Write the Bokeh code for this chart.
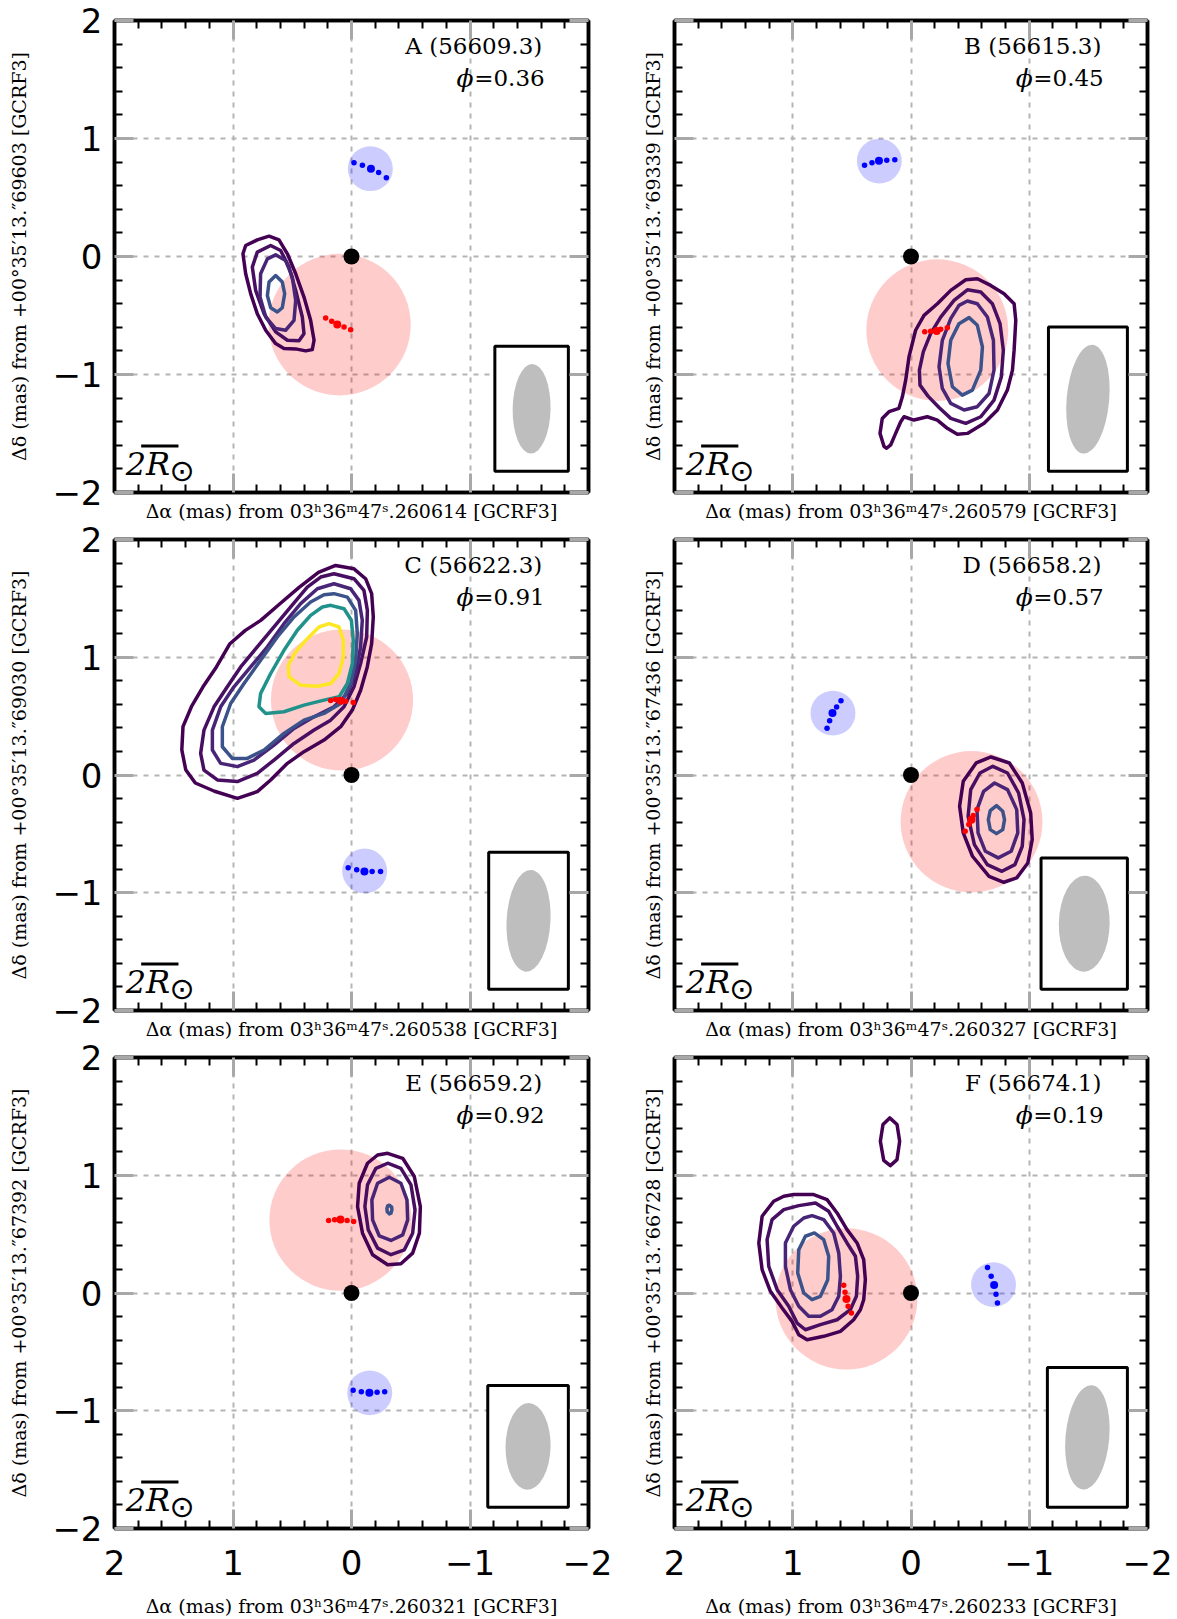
import math
from bokeh.plotting import figure
from bokeh.layouts import column, row
from bokeh.models import FixedTicker, LinearAxis, Range1d, Label, CustomJSTickFormatter
from bokeh.embed import file_html
from bokeh.resources import INLINE

# ---------------- data ----------------
PANEL_LETTERS = ["A", "B", "C", "D", "E", "F"]
EPOCH_MJD = ["56609.3", "56615.3", "56622.3", "56658.2", "56659.2", "56674.1"]
ORBITAL_PHASE = ["0.36", "0.45", "0.91", "0.57", "0.92", "0.19"]
RA_REF_FRAC = ["260614", "260579", "260538", "260327", "260321", "260233"]
DEC_REF_FRAC = ["69603", "69339", "69030", "67436", "67392", "66728"]

MAJOR_TICKS = [-2, -1, 0, 1, 2]
MINOR_TICKS = [-1.8, -1.6, -1.4, -1.2, -0.8, -0.6, -0.4, -0.2,
               0.2, 0.4, 0.6, 0.8, 1.2, 1.4, 1.6, 1.8]
TICK_LABELS = ["\u22122", "\u22121", "0", "1", "2"]
GRID_LINES = [-1, 0, 1]

# red track (5 positions, middle one = epoch position)
RED_X = [[0.218, 0.167, 0.120, 0.063, 0.007],
         [-0.116, -0.166, -0.217, -0.251, -0.307],
         [0.176, 0.134, 0.091, 0.049, -0.015],
         [-0.458, -0.489, -0.511, -0.526, -0.558],
         [0.193, 0.142, 0.093, 0.037, -0.018],
         [0.569, 0.558, 0.546, 0.532, 0.504]]
RED_Y = [[-0.521, -0.549, -0.577, -0.597, -0.620],
         [-0.637, -0.634, -0.631, -0.617, -0.603],
         [0.633, 0.641, 0.630, 0.627, 0.616],
         [-0.478, -0.421, -0.379, -0.345, -0.294],
         [0.615, 0.622, 0.625, 0.615, 0.608],
         [0.065, 0.006, -0.051, -0.113, -0.170]]
PINK_X = [0.100, -0.222, 0.080, -0.512, 0.093, 0.546]
PINK_Y = [-0.577, -0.624, 0.637, -0.397, 0.619, -0.050]
PINK_R = [0.60, 0.60, 0.60, 0.60, 0.60, 0.60]

# blue track
BLUE_X = [[-0.021, -0.092, -0.164, -0.229, -0.294],
          [0.393, 0.330, 0.271, 0.205, 0.137],
          [0.028, -0.044, -0.109, -0.174, -0.245],
          [0.710, 0.688, 0.664, 0.629, 0.592],
          [-0.014, -0.083, -0.151, -0.216, -0.280],
          [-0.647, -0.678, -0.703, -0.719, -0.731]]
BLUE_Y = [[0.794, 0.773, 0.743, 0.712, 0.667],
          [0.773, 0.794, 0.811, 0.816, 0.819],
          [-0.788, -0.805, -0.819, -0.819, -0.819],
          [0.396, 0.461, 0.526, 0.577, 0.631],
          [-0.825, -0.838, -0.848, -0.842, -0.838],
          [0.217, 0.142, 0.068, -0.010, -0.084]]
BLUECIRC_X = [-0.159, 0.268, -0.111, 0.660, -0.154, -0.698]
BLUECIRC_Y = [0.744, 0.809, -0.815, 0.525, -0.848, 0.071]
BLUECIRC_R = [0.19, 0.19, 0.19, 0.19, 0.19, 0.19]

# synthesized beam (mas, deg east of north)
BEAM_MAJ = [0.76, 0.925, 0.865, 0.815, 0.735, 0.89]
BEAM_MIN = [0.32, 0.36, 0.37, 0.43, 0.38, 0.37]
BEAM_PA = [-1, -5, -3, -1, -1, -5]

SCALE_2RSUN_MAS = 0.315

LEVEL_COLORS = ["#440154", "#470e61", "#482576", "#3b528b", "#21918c", "#fde725"]

# contours: (level index, x list, y list)
CONT_A = [
    (0, [0.696, 0.612, 0.541, 0.471, 0.401, 0.345, 0.316, 0.331, 0.387, 0.471, 0.570, 0.640,
         0.724, 0.795, 0.851, 0.893, 0.916, 0.893, 0.795],
        [0.172, 0.141, 0.023, -0.146, -0.344, -0.541, -0.710, -0.789, -0.800, -0.783, -0.780,
         -0.738, -0.625, -0.485, -0.315, -0.146, 0.023, 0.093, 0.141]),
    (1, [0.682, 0.598, 0.527, 0.471, 0.415, 0.401, 0.443, 0.541, 0.640, 0.738, 0.809, 0.837, 0.795],
        [0.093, 0.051, -0.090, -0.287, -0.513, -0.654, -0.715, -0.710, -0.639, -0.485, -0.287,
         -0.090, 0.037]),
    (2, [0.640, 0.556, 0.499, 0.471, 0.485, 0.556, 0.640, 0.724, 0.772, 0.767, 0.710],
        [0.014, -0.034, -0.175, -0.372, -0.541, -0.625, -0.611, -0.513, -0.344, -0.146, -0.020]),
    (3, [0.640, 0.584, 0.564, 0.584, 0.626, 0.682, 0.710, 0.696],
        [-0.161, -0.217, -0.315, -0.434, -0.470, -0.434, -0.330, -0.217]),
]
CONT_B = [
    (0, [0.228, 0.262, 0.243, 0.186, 0.102, 0.073, 0.045, 0.017, -0.039, -0.110, -0.223, -0.336,
         -0.463, -0.561, -0.674, -0.787, -0.872, -0.886, -0.872, -0.858, -0.815, -0.731, -0.618,
         -0.477, -0.392, -0.307, -0.223, -0.138, -0.025, 0.059, 0.087, 0.130, 0.172, 0.206],
        [-1.611, -1.499, -1.372, -1.315, -1.287, -1.189, -1.048, -0.851, -0.625, -0.499, -0.400,
         -0.287, -0.197, -0.189, -0.245, -0.315, -0.400, -0.541, -0.794, -0.963, -1.132, -1.301,
         -1.414, -1.499, -1.507, -1.456, -1.386, -1.358, -1.386, -1.358, -1.400, -1.499, -1.597,
         -1.625]),
    (1, [-0.477, -0.590, -0.688, -0.753, -0.781, -0.764, -0.702, -0.590, -0.463, -0.336, -0.237,
         -0.144, -0.076, -0.071, -0.104, -0.166, -0.251, -0.364],
        [-0.282, -0.301, -0.400, -0.569, -0.794, -1.020, -1.217, -1.358, -1.414, -1.372, -1.279,
         -1.183, -1.090, -0.963, -0.808, -0.654, -0.513, -0.372]),
    (2, [-0.477, -0.561, -0.646, -0.697, -0.702, -0.660, -0.561, -0.449, -0.336, -0.265, -0.237,
         -0.265, -0.336, -0.406],
        [-0.377, -0.400, -0.513, -0.710, -0.963, -1.161, -1.273, -1.301, -1.245, -1.118, -0.935,
         -0.710, -0.527, -0.414]),
    (3, [-0.491, -0.561, -0.604, -0.590, -0.519, -0.434, -0.350, -0.313, -0.336, -0.406],
        [-0.518, -0.583, -0.766, -0.963, -1.132, -1.175, -1.104, -0.907, -0.710, -0.569]),
]
CONT_C = [
    (0, [0.134, -0.021, -0.119, -0.170, -0.184, -0.170, -0.133, -0.077, -0.007, 0.091, 0.232,
         0.401, 0.541, 0.682, 0.795, 0.963, 1.156, 1.318, 1.399, 1.432, 1.422, 1.351, 1.253,
         1.140, 1.026, 0.896, 0.766, 0.604, 0.442, 0.279],
        [1.780, 1.751, 1.667, 1.540, 1.342, 1.116, 0.918, 0.720, 0.551, 0.410, 0.297, 0.198,
         0.099, -0.042, -0.141, -0.198, -0.138, -0.068, 0.045, 0.214, 0.411, 0.580, 0.749,
         0.918, 1.115, 1.228, 1.313, 1.454, 1.594, 1.721]),
    (1, [0.148, -0.021, -0.105, -0.134, -0.128, -0.077, -0.021, 0.063, 0.176, 0.316, 0.485,
         0.654, 0.795, 0.963, 1.132, 1.245, 1.273, 1.245, 1.160, 1.048, 0.935, 0.795, 0.654,
         0.513, 0.373, 0.260],
        [1.709, 1.667, 1.568, 1.398, 1.172, 0.946, 0.749, 0.579, 0.466, 0.382, 0.268, 0.127,
         0.014, -0.056, -0.042, 0.042, 0.184, 0.381, 0.579, 0.749, 0.918, 1.088, 1.257, 1.427,
         1.596, 1.681]),
    (2, [0.148, 0.007, -0.063, -0.091, -0.077, -0.035, 0.035, 0.148, 0.316, 0.485, 0.654,
         0.823, 0.963, 1.104, 1.174, 1.174, 1.104, 0.992, 0.851, 0.710, 0.570, 0.429, 0.288],
        [1.624, 1.582, 1.483, 1.314, 1.088, 0.862, 0.692, 0.579, 0.494, 0.395, 0.254, 0.127,
         0.071, 0.099, 0.212, 0.381, 0.579, 0.749, 0.918, 1.088, 1.285, 1.455, 1.582]),
    (3, [0.148, 0.035, -0.035, -0.049, -0.035, 0.007, 0.091, 0.232, 0.401, 0.570, 0.738,
         0.879, 1.006, 1.090, 1.090, 1.020, 0.907, 0.767, 0.626, 0.485, 0.345, 0.232],
        [1.540, 1.511, 1.398, 1.201, 0.975, 0.777, 0.607, 0.523, 0.466, 0.353, 0.212, 0.141,
         0.141, 0.240, 0.410, 0.607, 0.777, 0.975, 1.172, 1.342, 1.469, 1.531]),
    (4, [0.176, 0.063, 0.001, -0.015, -0.007, 0.035, 0.105, 0.232, 0.401, 0.570, 0.724, 0.781,
         0.767, 0.682, 0.570, 0.457, 0.345, 0.246],
        [1.441, 1.412, 1.314, 1.144, 0.946, 0.777, 0.664, 0.636, 0.593, 0.537, 0.523, 0.579,
         0.692, 0.862, 1.059, 1.229, 1.356, 1.427]),
    (5, [0.190, 0.105, 0.069, 0.069, 0.105, 0.176, 0.288, 0.429, 0.527, 0.533, 0.471, 0.373, 0.274],
        [1.285, 1.257, 1.144, 1.003, 0.862, 0.777, 0.754, 0.763, 0.833, 0.932, 1.045, 1.158, 1.257]),
]
CONT_D = [
    (0, [-0.676, -0.832, -0.941, -1.012, -1.025, -0.988, -0.894, -0.785, -0.660, -0.520, -0.442,
         -0.411, -0.442, -0.551],
        [0.153, 0.102, -0.068, -0.322, -0.549, -0.747, -0.874, -0.911, -0.860, -0.690, -0.492,
         -0.266, -0.054, 0.102]),
    (1, [-0.692, -0.816, -0.910, -0.956, -0.941, -0.879, -0.769, -0.645, -0.536, -0.483, -0.505, -0.583],
        [0.074, 0.017, -0.153, -0.379, -0.605, -0.761, -0.818, -0.761, -0.591, -0.351, -0.124, 0.017]),
    (2, [-0.707, -0.816, -0.894, -0.903, -0.847, -0.738, -0.629, -0.567, -0.558, -0.614],
        [-0.068, -0.124, -0.294, -0.492, -0.648, -0.704, -0.648, -0.492, -0.294, -0.139]),
    (3, [-0.723, -0.776, -0.791, -0.776, -0.723, -0.670, -0.654, -0.670],
        [-0.260, -0.308, -0.379, -0.464, -0.498, -0.464, -0.379, -0.303]),
]
CONT_E = [
    (0, [-0.305, -0.432, -0.530, -0.581, -0.573, -0.516, -0.417, -0.305, -0.178, -0.093, -0.051,
         -0.065, -0.135, -0.220],
        [1.186, 1.144, 0.989, 0.734, 0.508, 0.339, 0.249, 0.240, 0.325, 0.508, 0.734, 0.932,
         1.102, 1.172]),
    (1, [-0.305, -0.417, -0.502, -0.536, -0.516, -0.446, -0.333, -0.220, -0.141, -0.113, -0.135, -0.206],
        [1.102, 1.059, 0.918, 0.706, 0.508, 0.367, 0.325, 0.381, 0.537, 0.734, 0.918, 1.059]),
    (2, [-0.319, -0.417, -0.468, -0.474, -0.432, -0.333, -0.234, -0.178, -0.172, -0.220],
        [0.983, 0.932, 0.791, 0.621, 0.494, 0.446, 0.486, 0.621, 0.791, 0.932]),
    (3, [-0.319, -0.339, -0.341, -0.333, -0.319, -0.302, -0.299, -0.305],
        [0.746, 0.729, 0.706, 0.678, 0.672, 0.689, 0.718, 0.740]),
]
CONT_F = [
    (0, [0.992, 0.823, 0.710, 0.625, 0.541, 0.456, 0.400, 0.386, 0.400, 0.428, 0.485, 0.597,
         0.738, 0.879, 0.949, 1.006, 1.090, 1.189, 1.259, 1.287, 1.259, 1.161, 1.076],
        [0.836, 0.836, 0.793, 0.680, 0.538, 0.425, 0.283, 0.113, -0.057, -0.142, -0.227, -0.326,
         -0.368, -0.397, -0.354, -0.241, -0.127, 0.014, 0.198, 0.425, 0.652, 0.779, 0.822]),
    (0, [0.180, 0.118, 0.096, 0.118, 0.175, 0.231, 0.259, 0.237],
        [1.487, 1.431, 1.289, 1.133, 1.082, 1.127, 1.289, 1.431]),
    (1, [0.949, 0.808, 0.696, 0.625, 0.541, 0.470, 0.451, 0.462, 0.513, 0.625, 0.766, 0.893,
         0.963, 1.034, 1.132, 1.203, 1.217, 1.175, 1.076],
        [0.742, 0.765, 0.694, 0.567, 0.425, 0.312, 0.142, -0.028, -0.142, -0.227, -0.269, -0.312,
         -0.255, -0.113, 0.028, 0.227, 0.453, 0.623, 0.708]),
    (2, [0.837, 0.738, 0.654, 0.611, 0.597, 0.611, 0.668, 0.766, 0.865, 0.949, 1.020, 1.062,
         1.062, 0.992, 0.907],
        [0.657, 0.623, 0.510, 0.340, 0.142, -0.028, -0.142, -0.198, -0.198, -0.113, 0.028, 0.227,
         0.425, 0.567, 0.637]),
    (3, [0.817, 0.738, 0.696, 0.704, 0.766, 0.837, 0.907, 0.958, 0.949, 0.893],
        [0.510, 0.453, 0.312, 0.113, -0.028, -0.057, 0.000, 0.170, 0.368, 0.482]),
]
CONTOURS = [CONT_A, CONT_B, CONT_C, CONT_D, CONT_E, CONT_F]

# ---------------- styling / layout ----------------
SERIF = "DejaVu Serif"
TICK_FONT = "DejaVu Sans"
DOT_SIZES = [5.5, 5.5, 8, 5.5, 5.5]
OVERLAP = 14  # rows 2 and 3 slide up under the previous row's transparent border

LABEL_CODE = ("const t = %s; const l = %s; const i = t.indexOf(tick); "
              "return i >= 0 ? l[i] : String(tick);") % (MAJOR_TICKS, [str(s) for s in TICK_LABELS])
BLANK_CODE = "return '';"


def style_axis(ax, show_labels, label_standoff, title_standoff):
    ax.ticker = FixedTicker(ticks=MAJOR_TICKS, minor_ticks=MINOR_TICKS)
    ax.formatter = CustomJSTickFormatter(code=LABEL_CODE if show_labels else BLANK_CODE)
    ax.axis_line_color = "black"
    ax.axis_line_width = 3.5
    ax.major_tick_in = 19
    ax.major_tick_out = 0
    ax.major_tick_line_color = "#a8a8a8"
    ax.major_tick_line_width = 3
    ax.minor_tick_in = 8
    ax.minor_tick_out = 0
    ax.minor_tick_line_color = "black"
    ax.minor_tick_line_width = 2
    ax.major_label_text_font = TICK_FONT
    ax.major_label_text_color = "black"
    ax.major_label_text_font_size = "34px" if show_labels else "1px"
    ax.major_label_standoff = label_standoff
    ax.axis_label_text_font = SERIF
    ax.axis_label_text_font_style = "normal"
    ax.axis_label_text_font_size = "19px"
    ax.axis_label_text_color = "black"
    ax.axis_label_standoff = title_standoff


def make_panel(i):
    r, c = divmod(i, 2)
    left = c == 0
    bottom = r == 2
    extra = 0 if r == 0 else OVERLAP
    W = 612 if left else 563
    H = [524, 518, 577][r] + extra
    p = figure(width=W, height=H, x_range=Range1d(2, -2), y_range=Range1d(-2, 2),
               output_backend="svg", toolbar_location=None,
               min_border_left=114 if left else 62,
               min_border_right=24 if left else 28,
               min_border_top=(20 if r == 0 else 15) + extra,
               min_border_bottom=[31, 31, 90][r])
    p.background_fill_color = "white"
    p.border_fill_color = None
    p.outline_line_color = "black"
    p.outline_line_width = 3.5
    p.outline_line_alpha = 1.0

    p.xaxis.axis_label = ("\u0394\u03b1 (mas) from 03\u02b036\u1d5047\u02e2." + RA_REF_FRAC[i] + " [GCRF3]")
    p.yaxis.axis_label = ("\u0394\u03b4 (mas) from +00\u00b035\u203213.\u2033" + DEC_REF_FRAC[i] + " [GCRF3]")
    for ax in p.xaxis:
        style_axis(ax, bottom, 21 if bottom else 0, 17 if bottom else 7)
    for ax in p.yaxis:
        style_axis(ax, left, 12 if left else 0, 19 if left else 11)
    for side in ("above", "right"):
        ax = LinearAxis()
        style_axis(ax, False, 0, 0)
        ax.axis_label = None
        p.add_layout(ax, side)

    for g in (p.xgrid, p.ygrid):
        g.ticker = FixedTicker(ticks=GRID_LINES)
        g.grid_line_color = "#b4b4b4"
        g.grid_line_width = 2
        g.grid_line_dash = "5 6"

    # red & blue uncertainty discs
    p.ellipse(x=[PINK_X[i]], y=[PINK_Y[i]], width=[2 * PINK_R[i]], height=[2 * PINK_R[i]],
              fill_color="#ff0000", fill_alpha=0.2, line_color=None)
    p.ellipse(x=[BLUECIRC_X[i]], y=[BLUECIRC_Y[i]], width=[2 * BLUECIRC_R[i]],
              height=[2 * BLUECIRC_R[i]], fill_color="#0000ff", fill_alpha=0.2, line_color=None)

    # contours
    conts = CONTOURS[i]
    p.patches(xs=[cx for (_, cx, _) in conts], ys=[cy for (_, _, cy) in conts],
              fill_color=None, line_color=[LEVEL_COLORS[lv] for (lv, _, _) in conts],
              line_width=3.5, line_join="round")

    # tracks
    p.scatter(x=RED_X[i], y=RED_Y[i], size=DOT_SIZES, color="#ff0000", line_color=None)
    p.scatter(x=BLUE_X[i], y=BLUE_Y[i], size=DOT_SIZES, color="#0000ff", line_color=None)
    p.scatter(x=[0], y=[0], size=16, color="black", line_color=None)

    # beam box + beam
    a = BEAM_MAJ[i] / 2
    b = BEAM_MIN[i] / 2
    th = math.radians(BEAM_PA[i])
    hw = math.sqrt((b * math.cos(th)) ** 2 + (a * math.sin(th)) ** 2)
    hh = math.sqrt((a * math.cos(th)) ** 2 + (b * math.sin(th)) ** 2)
    pad = 0.15
    x_right, y_bot = -1.83, -1.82
    bx = x_right + hw + pad
    by = y_bot + hh + pad
    p.quad(left=[x_right + 2 * (hw + pad)], right=[x_right], bottom=[y_bot], top=[y_bot + 2 * (hh + pad)],
           fill_color="white", line_color="black", line_width=3)
    p.ellipse(x=[bx], y=[by], width=[BEAM_MIN[i]], height=[BEAM_MAJ[i]], angle=[th],
              fill_color="#bebebe", line_color=None)

    # 2 R_sun scale bar
    p.segment(x0=[1.775], y0=[-1.605], x1=[1.775 - SCALE_2RSUN_MAS], y1=[-1.605],
              line_color="black", line_width=3)
    p.add_layout(Label(x=1.905, y=-1.76, text="2R", text_font=SERIF, text_font_style="italic",
                       text_font_size="32px", text_align="left", text_baseline="alphabetic",
                       text_color="black"))
    p.add_layout(Label(x=1.43, y=-1.81, text="\u2299", text_font="DejaVu Sans",
                       text_font_size="30px", text_align="center", text_baseline="middle",
                       text_color="black"))

    # epoch text
    p.add_layout(Label(x=-1.61, y=1.785, text=PANEL_LETTERS[i] + " (" + EPOCH_MJD[i] + ")",
                       text_font=SERIF, text_font_size="23px", text_align="right",
                       text_baseline="alphabetic", text_color="black"))
    p.add_layout(Label(x=-1.63, y=1.51, text="=" + ORBITAL_PHASE[i],
                       text_font=SERIF, text_font_size="23px", text_align="right",
                       text_baseline="alphabetic", text_color="black"))
    p.add_layout(Label(x=-1.03, y=1.51, text="\u03d5",
                       text_font=SERIF, text_font_style="italic", text_font_size="25px",
                       text_align="right", text_baseline="alphabetic", text_color="black"))
    return p


panels = [make_panel(i) for i in range(6)]
shift = {"margin-top": "-%dpx" % OVERLAP}
layout = column(row(panels[0], panels[1]),
                row(panels[2], panels[3], styles=shift),
                row(panels[4], panels[5], styles=shift))

open("out.html", "w").write(file_html(layout, INLINE))
